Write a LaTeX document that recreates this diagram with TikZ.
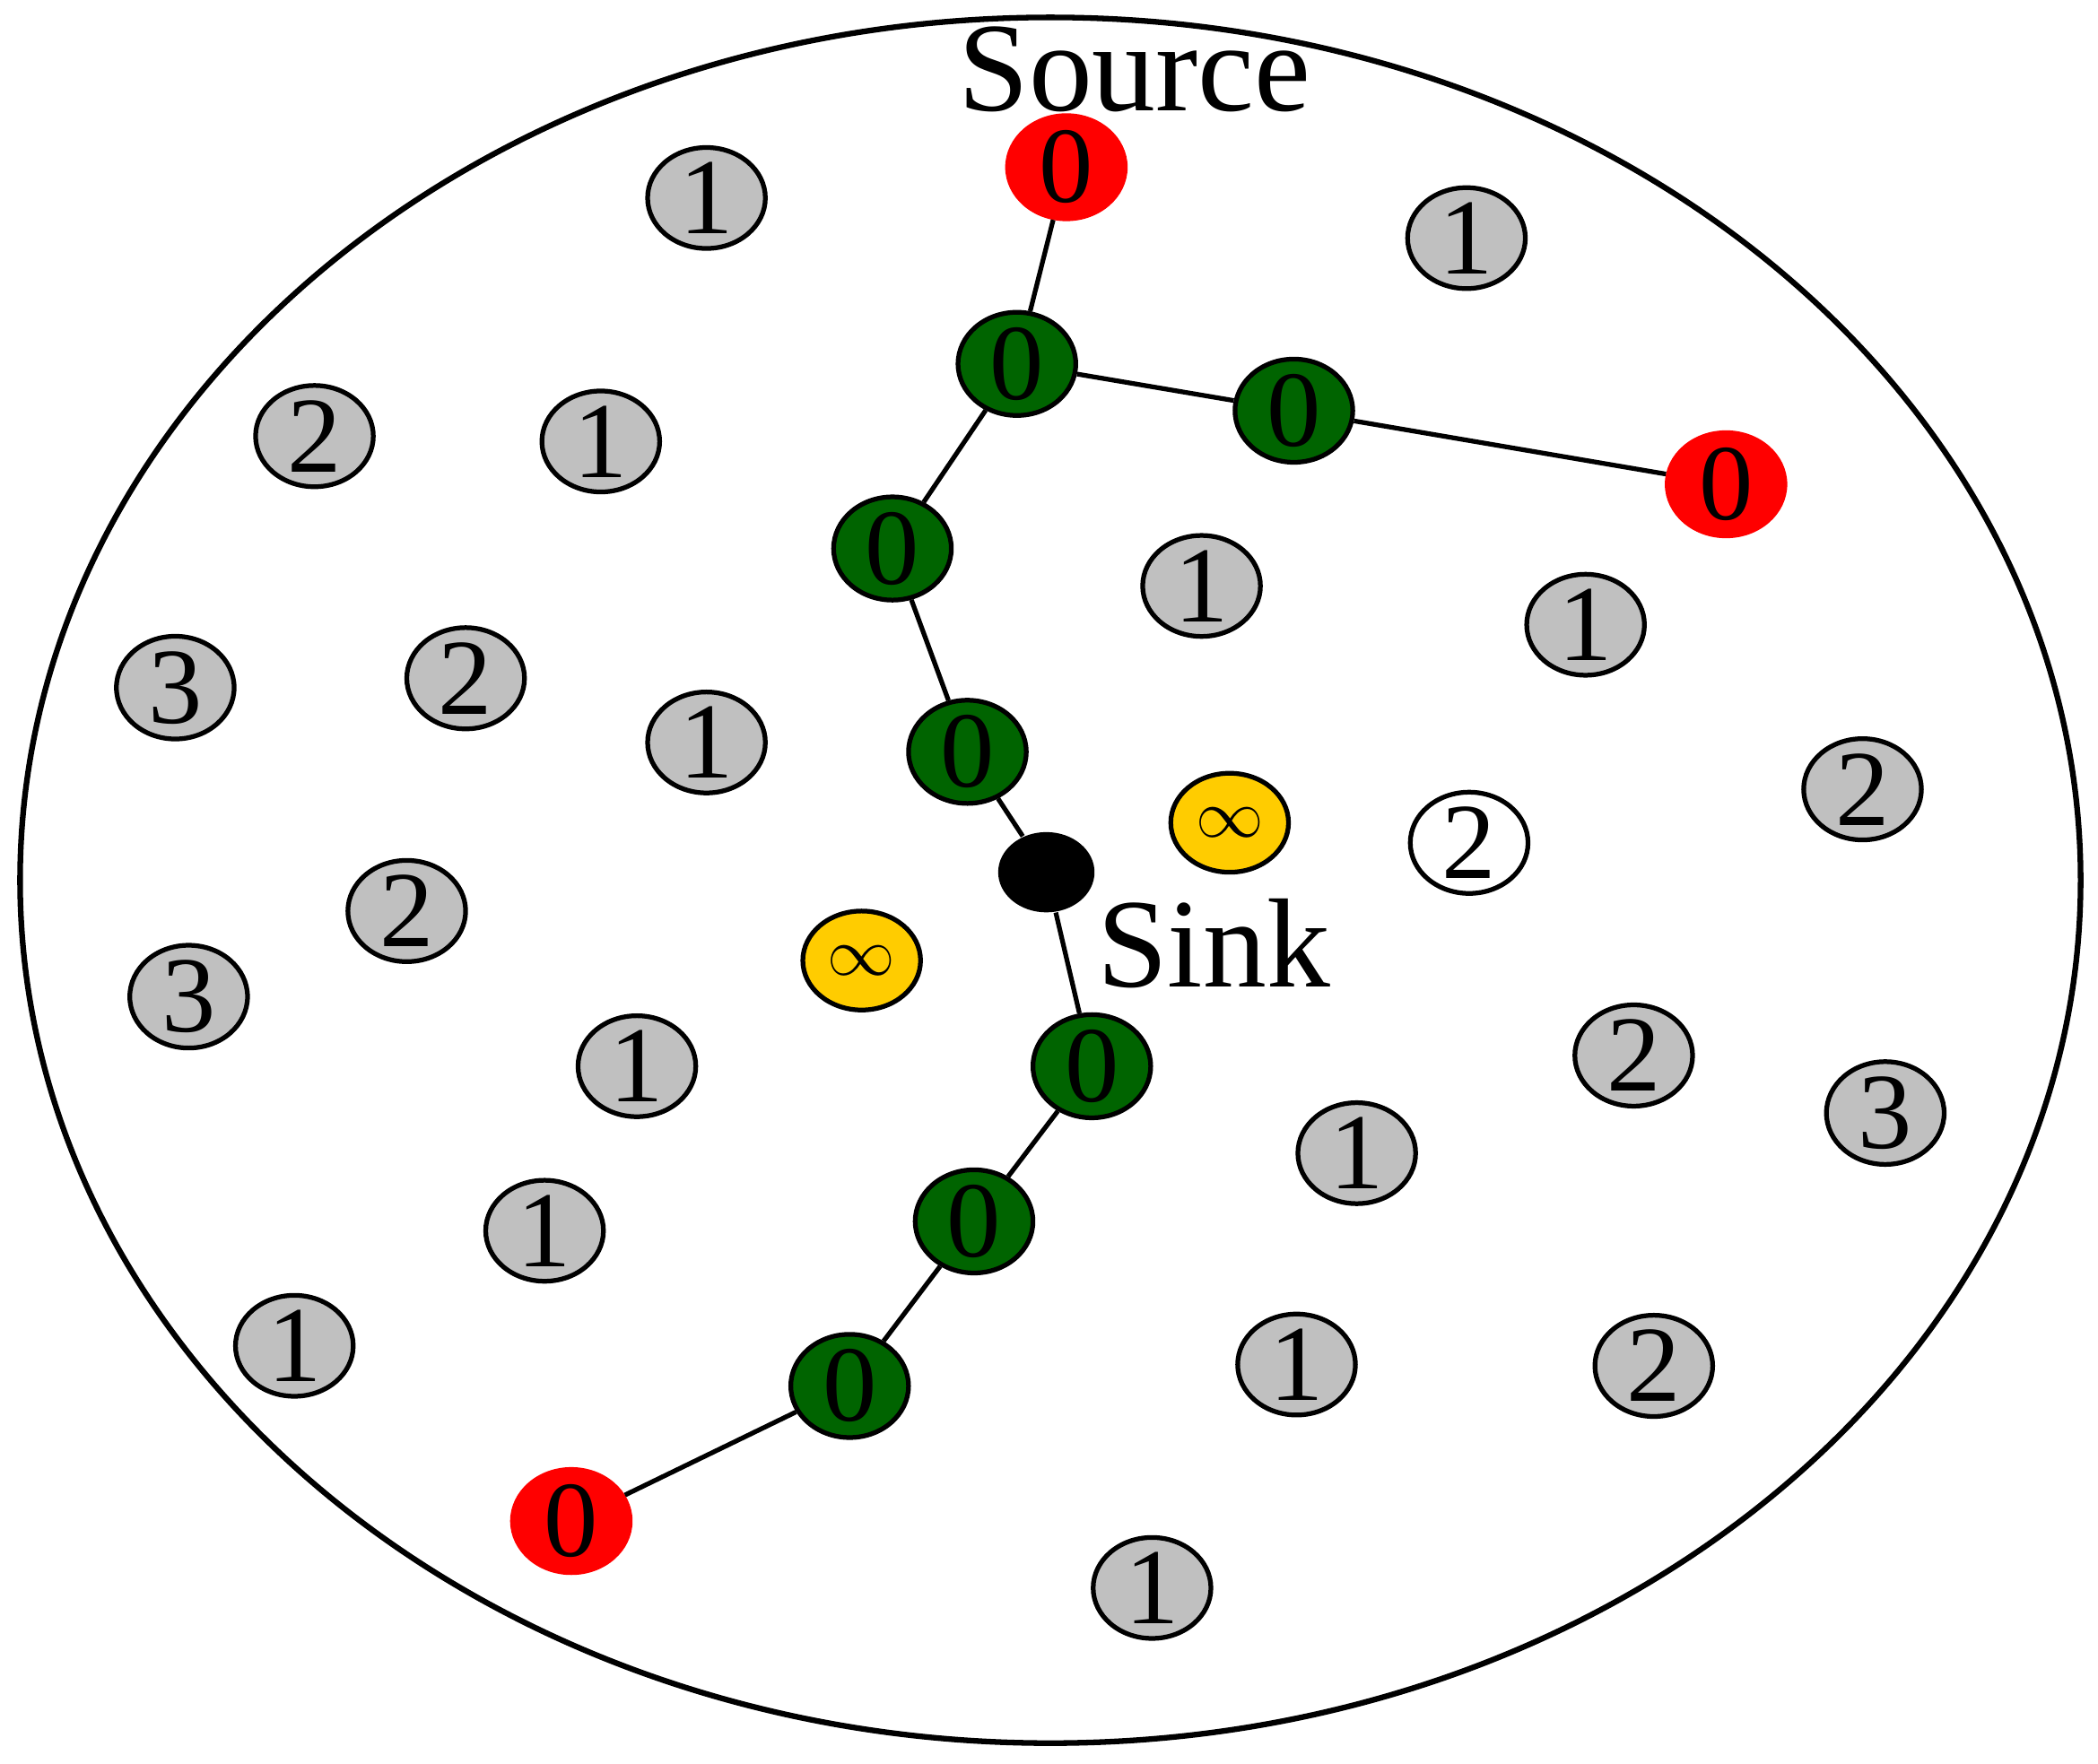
\documentclass[tikz,border=0pt]{standalone}
\usepackage{fontspec}
\setmainfont{Liberation Serif}
\usepackage{tikz}
\usetikzlibrary{shapes,positioning}
\definecolor{nodegray}{RGB}{192,192,192}
\definecolor{pathgreen}{RGB}{0,100,0}
\definecolor{infyellow}{RGB}{255,204,0}
\tikzset{
    sensor/.style={ellipse,draw=black,line width=1pt,minimum width=0.88cm,minimum height=0.74cm,inner sep=0pt,font=\fontsize{23}{23}\selectfont},
    hop/.style={sensor,fill=nodegray},
    route/.style={sensor,fill=pathgreen},
    endpoint/.style={sensor,draw=red,fill=red},
    unreached/.style={sensor,fill=infyellow,font=\fontsize{15}{15}\selectfont},
    link/.style={line width=1pt}
}
\begin{document}
\begin{tikzpicture}
        \useasboundingbox (0,0) rectangle (15.68,13.18);
        % Field
        \draw[line width=1.2pt] (7.85,6.6) ellipse (7.7cm and 6.45cm);

        % Sources and sink
        \node[endpoint] (srcA) at (7.97,11.93) {0};
        \node[endpoint] (srcB) at (12.90,9.56) {0};
        \node[endpoint] (srcC) at (4.27,1.81) {0};
        \node[ellipse,fill=black,minimum width=0.72cm,minimum height=0.6cm] (sink) at (7.82,6.66) {};
        \node[font=\fontsize{27}{27}\selectfont] (srclabel) at (8.48,12.66) {Source};
        \node[font=\fontsize{27}{27}\selectfont] (sinklabel) at (9.07,6.13) {Sink};

        % Routing path
        \node[route] (r1) at (7.60,10.46) {0};
        \node[route] (r2) at (9.67,10.11) {0};
        \node[route] (r3) at (6.67,9.08) {0};
        \node[route] (r4) at (7.23,7.56) {0};
        \node[route] (r5) at (8.16,5.21) {0};
        \node[route] (r6) at (7.28,4.05) {0};
        \node[route] (r7) at (6.35,2.82) {0};

        % Other nodes
        \node[unreached] (inf1) at (9.19,7.03) {$\infty$};
        \node[unreached] (inf2) at (6.44,6.00) {$\infty$};
        \node[sensor,fill=white] (w1) at (10.98,6.88) {2};
        \foreach \x/\y/\h [count=\i] in {5.28/11.70/1, 10.96/11.40/1, 2.35/9.92/2, 4.49/9.88/1,
            8.98/8.80/1, 11.85/8.51/1, 1.31/8.04/3, 3.48/8.11/2, 5.28/7.63/1,
            13.92/7.28/2, 3.04/6.37/2, 1.41/5.73/3, 4.76/5.21/1, 12.21/5.29/2,
            14.09/4.86/3, 10.14/4.56/1, 4.07/3.98/1, 2.20/3.12/1, 9.69/2.98/1,
            12.36/2.97/2, 8.61/1.31/1}
            \node[hop] (h\i) at (\x,\y) {\h};

        % Links
        \draw[link] (srcA) -- (r1);
        \draw[link] (r1) -- (r2);
        \draw[link] (r2) -- (srcB);
        \draw[link] (r1) -- (r3);
        \draw[link] (r3) -- (r4);
        \draw[link] (r4) -- (sink);
        \draw[link] (sink) -- (r5);
        \draw[link] (r5) -- (r6);
        \draw[link] (r6) -- (r7);
        \draw[link] (r7) -- (srcC);
    \end{tikzpicture}
\end{document}
